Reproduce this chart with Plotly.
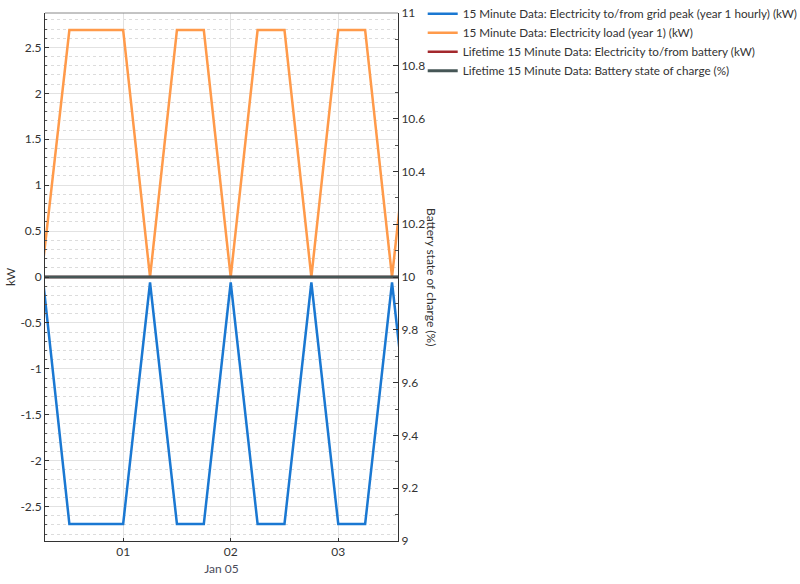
import plotly.graph_objects as go

# ---- data ----
times = ["2021-01-05 00:15", "2021-01-05 00:30", "2021-01-05 00:45", "2021-01-05 01:00",
         "2021-01-05 01:15", "2021-01-05 01:30", "2021-01-05 01:45", "2021-01-05 02:00",
         "2021-01-05 02:15", "2021-01-05 02:30", "2021-01-05 02:45", "2021-01-05 03:00",
         "2021-01-05 03:15", "2021-01-05 03:30", "2021-01-05 03:45"]
grid_peak = [0.02, -2.69, -2.69, -2.69, -0.06, -2.69, -2.69, -0.06,
             -2.69, -2.69, -0.06, -2.69, -2.69, -0.06, -2.69]
load = [0.1, 2.69, 2.69, 2.69, 0.0, 2.69, 2.69, 0.0,
        2.69, 2.69, 0.0, 2.69, 2.69, 0.0, 2.69]
battery = [0.0] * 15
soc = [10.0] * 15

names = ["15 Minute Data: Electricity to/from grid peak (year 1 hourly) (kW)",
         "15 Minute Data: Electricity load (year 1) (kW)",
         "Lifetime 15 Minute Data: Electricity to/from battery (kW)",
         "Lifetime 15 Minute Data: Battery state of charge (%)"]
colors = ["#1a78d2", "#ff9a4a", "#a3282c", "#465656"]

kw_ticks = [-2.5, -2, -1.5, -1, -0.5, 0, 0.5, 1, 1.5, 2, 2.5]
kw_text = ["-2.5", "-2", "-1.5", "-1", "-0.5", "0", "0.5", "1", "1.5", "2", "2.5"]
x_ticks = ["2021-01-05 01:00", "2021-01-05 02:00", "2021-01-05 03:00"]
x_text = ["01", "02", "03"]
x_range = ["2021-01-05 00:16:24", "2021-01-05 03:33:20"]

FONT = "Lato"
TXT = "#333333"

fig = go.Figure()
fig.add_trace(go.Scatter(x=times, y=grid_peak, name=names[0], mode="lines",
                         line=dict(color=colors[0], width=2.5)))
fig.add_trace(go.Scatter(x=times, y=load, name=names[1], mode="lines",
                         line=dict(color=colors[1], width=2.5)))
fig.add_trace(go.Scatter(x=times, y=battery, name=names[2], mode="lines",
                         line=dict(color=colors[2], width=2.5)))
fig.add_trace(go.Scatter(x=times, y=soc, name=names[3], mode="lines", yaxis="y2",
                         line=dict(color=colors[3], width=3)))

fig.update_layout(
    width=800, height=584,
    margin=dict(l=45, r=402, t=13, b=43, autoexpand=False),
    paper_bgcolor="white", plot_bgcolor="white",
    font=dict(family=FONT, size=12, color=TXT),
    showlegend=True,
    legend=dict(x=1.07, y=1.026, xanchor="left", yanchor="top",
                font=dict(family=FONT, size=11.7, color=TXT),
                bgcolor="rgba(0,0,0,0)", tracegroupgap=0, itemwidth=30),
    xaxis=dict(type="date", range=x_range, tickvals=x_ticks, ticktext=x_text,
               showgrid=True, gridcolor="#e2e2e2", gridwidth=1,
               showline=True, linecolor="#333333", linewidth=1,
               ticks="inside", ticklen=3, tickcolor="#333333",
               zeroline=False, automargin=False,
               title=dict(text="Jan 05", font=dict(size=12, color="#4a4a5a"), standoff=6)),
    yaxis=dict(range=[-2.875, 2.875], tickvals=kw_ticks, ticktext=kw_text,
               showgrid=True, gridcolor="#e2e2e2", gridwidth=1,
               showline=True, linecolor="#333333", linewidth=1,
               ticks="inside", ticklen=4, tickcolor="#333333",
               zeroline=False, automargin=False,
               minor=dict(dtick=0.1, showgrid=True, gridcolor="#dcdcdc", griddash="dot",
                          ticks="inside", ticklen=2, tickcolor="#555555")),
    yaxis2=dict(range=[9, 11], dtick=0.2, overlaying="y", side="right",
                showgrid=False, showline=True, linecolor="#333333", linewidth=1,
                ticks="inside", ticklen=5, tickcolor="#333333",
                zeroline=False, automargin=False,
                minor=dict(dtick=0.1, ticks="inside", ticklen=3, tickcolor="#555555",
                           showgrid=False)),
    annotations=[
        dict(text="kW", xref="paper", yref="paper", x=0, y=0.5, xanchor="center",
             yanchor="middle", xshift=-35, textangle=-90, showarrow=False,
             font=dict(size=12, color=TXT)),
        dict(text="Battery state of charge (%)", xref="paper", yref="paper", x=1,
             y=0.5, xanchor="center", yanchor="middle", xshift=34, yshift=0,
             textangle=90, showarrow=False, font=dict(size=12, color=TXT)),
    ],
    shapes=[dict(type="line", xref="paper", yref="paper", x0=0, x1=1, y0=1, y1=1,
                 line=dict(color="#888888", width=1))],
)

fig.write_html("out.html", config={"displayModeBar": False},
               post_script="document.body.style.margin='0';document.body.style.overflow='hidden';")
